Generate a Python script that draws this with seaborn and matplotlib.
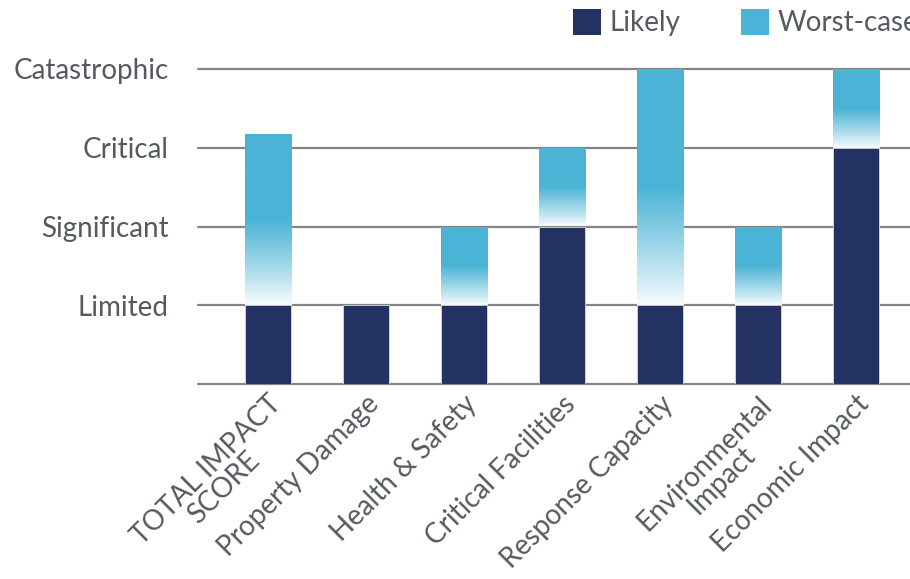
import numpy as np
import pandas as pd
import matplotlib
matplotlib.use("Agg")
import matplotlib.pyplot as plt
from matplotlib.patches import Patch
from matplotlib.colors import to_rgb
import seaborn as sns

# date
categories = ["TOTAL IMPACT\nSCORE", "Property Damage", "Health & Safety",
              "Critical Facilities", "Response Capacity", "Environmental\nImpact",
              "Economic Impact"]
likely = [1, 1, 1, 2, 1, 1, 3]
worst_case = [3.17, 1, 2, 3, 4, 2, 4]
level_labels = ["", "Limited", "Significant", "Critical", "Catastrophic"]

navy = "#233163"
blue = "#4bb4d6"
grid_col = "#858585"
text_col = "#555a60"

sns.set_style("white")
plt.rcParams["font.family"] = ["Lato", "DejaVu Sans"]

df = pd.DataFrame({"cat": categories, "likely": likely, "worst": worst_case})

fig = plt.figure(figsize=(9.1, 5.79), dpi=100)
ax = fig.add_axes([198 / 910, 195 / 579, 1 - 198 / 910, (384 - 69) / 579])

# liniile orizontale
for lvl in range(5):
    ax.axhline(lvl, color=grid_col, lw=1.6, zorder=0, clip_on=False)

# bare worst-case (cu gradient) - desenate intai
sns.barplot(data=df, x="cat", y="worst", color=blue, width=0.47, ax=ax,
            saturation=1, zorder=2)
wc_patches = list(ax.patches)
c = np.array(to_rgb(blue))
for p, lo, hi in zip(wc_patches, likely, worst_case):
    p.set_facecolor("none")
    p.set_edgecolor("none")
    if hi <= lo:
        continue
    n = 200
    t = np.linspace(0, 1, n)
    # alb jos, culoare plina de pe la jumatate
    fade = np.clip(t / 0.5, 0, 1) ** 0.9
    fade = 0.03 + 0.97 * fade
    rgb = (1 - fade)[:, None] * np.ones(3) + fade[:, None] * c
    img = rgb[:, None, :]
    x0 = p.get_x()
    x1 = x0 + p.get_width()
    im = ax.imshow(img, extent=[x0, x1, lo, hi], origin="lower",
                   aspect="auto", zorder=2, interpolation="bilinear")
    im.set_clip_path(p)

# bare likely
sns.barplot(data=df, x="cat", y="likely", color=navy, width=0.47, ax=ax,
            saturation=1, zorder=3, edgecolor="#d8dbe3", linewidth=0.6)

ax.set_xlim(-0.71, 6.55)
ax.set_ylim(0, 4)
ax.set_xlabel("")
ax.set_ylabel("")
sns.despine(ax=ax, left=True, bottom=True, top=True, right=True)

ax.set_yticks(range(5))
ax.set_yticklabels(level_labels, fontsize=20, color=text_col)
ax.tick_params(axis="y", length=0, pad=21)
ax.tick_params(axis="x", length=0, pad=5)
ax.set_xticks(range(len(categories)))
ax.set_xticklabels(categories, fontsize=20, color=text_col, rotation=45,
                   ha="right", rotation_mode="anchor", multialignment="center",
                   linespacing=0.92)
for lab in ax.get_xticklabels():
    lab.set_x(lab.get_position()[0] + 0.28)

handles = [Patch(facecolor=navy, edgecolor="none"),
           Patch(facecolor=blue, edgecolor="none")]
fig.legend(handles, ["Likely", "Worst-case"], loc="upper left",
           bbox_to_anchor=(548 / 910, 1.028), ncol=2, frameon=False,
           fontsize=20, labelcolor=text_col, handlelength=1.0, handleheight=1.05,
           handletextpad=0.3, columnspacing=2.2)

fig.savefig("out.png", dpi=100)
